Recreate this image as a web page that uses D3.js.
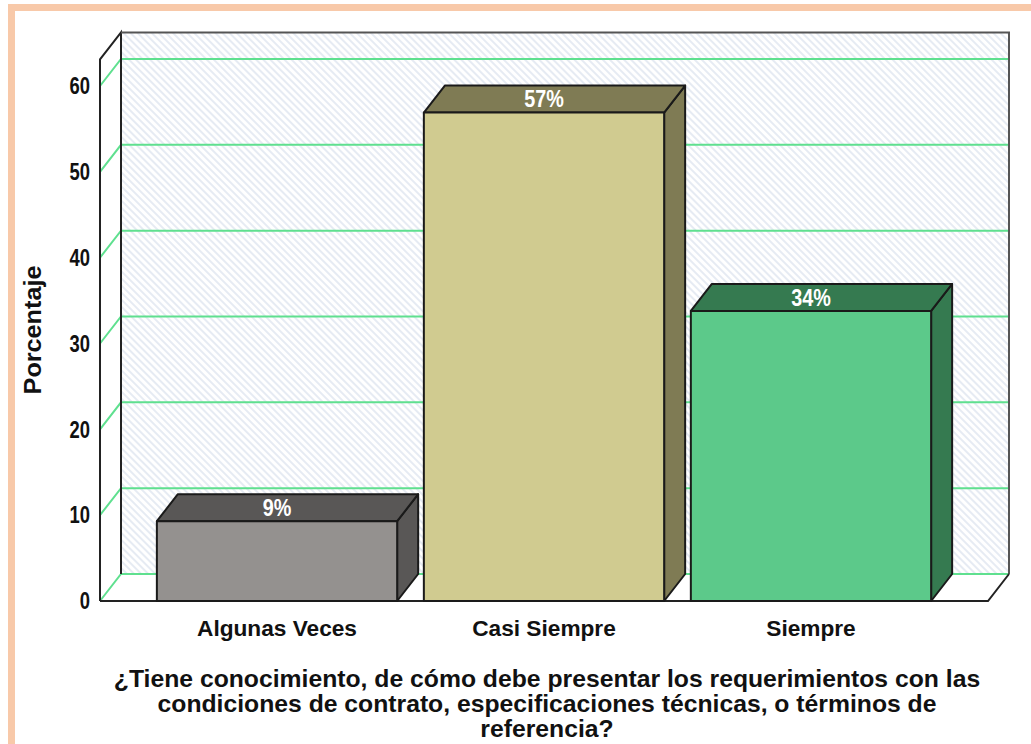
<!DOCTYPE html>
<html>
<head>
<meta charset="utf-8">
<script src="https://cdn.jsdelivr.net/npm/d3@7"></script>
<style>
  body { margin: 0; background: #fff; }
  #chart { width: 1031px; height: 744px; }
  text { font-family: "Liberation Sans", Arial, sans-serif; font-weight: bold; }
</style>
</head>
<body>
<div id="chart"></div>
<script>
const categories = ["Algunas Veces", "Casi Siempre", "Siempre"]
const values = [9.3, 56.9, 33.8]
const labels = ["9%", "57%", "34%"]
const yTicks = [0, 10, 20, 30, 40, 50, 60]
const titleLines = [
    "¿Tiene conocimiento, de cómo debe presentar los requerimientos con las",
    "condiciones de contrato, especificaciones técnicas, o términos de",
    "referencia?"
]

const frontColors = ["#94918f", "#d0cb90", "#5cc98a"]
const darkColors = ["#595756", "#7f7b54", "#357a50"]

const width = 1031, height = 744
const dx = 21, dy = -27
const left = 100, right = 988, base = 601

// narrow look: squeeze text horizontally
function squeeze(sel, ratio) {
    sel.each(function() {
        const w = this.getComputedTextLength()
        d3.select(this).attr("textLength", w * ratio).attr("lengthAdjust", "spacingAndGlyphs")
    })
}

const svg = d3.select("#chart").append("svg")
    .attr("width", width)
    .attr("height", height)

// hatch for back wall
const defs = svg.append("defs")
const pat = defs.append("pattern")
    .attr("id", "hatch")
    .attr("patternUnits", "userSpaceOnUse")
    .attr("width", 5).attr("height", 5)
    .attr("patternTransform", "rotate(45)")
pat.append("rect").attr("width", 5).attr("height", 5).attr("fill", "#fff")
pat.append("rect").attr("width", 5).attr("height", 2).attr("fill", "#e6ebf3")

// peach frame
svg.append("rect").attr("x", 8).attr("y", 4).attr("width", width - 8).attr("height", 7).attr("fill", "#f8c9a9")
svg.append("rect").attr("x", 8).attr("y", 4).attr("width", 7).attr("height", height - 4).attr("fill", "#f8c9a9")

const y = d3.scaleLinear().domain([0, 60]).range([base, 86])
const x = d3.scaleBand().domain(categories).range([left, right])
    .paddingInner(0.1).paddingOuter(0.213)

const topVal = 63.1
const wallTop = y(topVal) + dy

// back wall
svg.append("rect")
    .attr("x", left + dx).attr("y", wallTop)
    .attr("width", right - left).attr("height", base + dy - wallTop)
    .attr("fill", "url(#hatch)")

// gridlines (back wall + left wall)
const grid = svg.append("g").attr("stroke", "#5fe08f").attr("stroke-width", 2).attr("fill", "none")
grid.selectAll("path")
    .data(yTicks)
    .join("path")
    .attr("d", d => `M${left},${y(d)}L${left + dx},${y(d) + dy}L${right + dx},${y(d) + dy}`)

// wall + floor outlines
const frame = svg.append("g").attr("stroke", "#222").attr("stroke-width", 2).attr("fill", "none")
frame.append("path")
    .attr("d", `M${left},${base}L${left},${y(topVal)}L${left + dx},${wallTop}L${left + dx},${base + dy}`)
frame.append("path")
    .attr("d", `M${left + dx},${wallTop}L${right + dx},${wallTop}L${right + dx},${base + dy}`)
    .attr("stroke", "#555")
frame.append("path")
    .attr("d", `M${left},${base}L${right},${base}L${right + dx},${base + dy}`)

// y labels
svg.append("g").selectAll("text")
    .data(yTicks)
    .join("text")
    .attr("x", 90)
    .attr("y", d => y(d))
    .attr("dy", "0.36em")
    .attr("text-anchor", "end")
    .attr("font-size", 23)
    .attr("fill", "#111")
    .text(d => d)
    .call(squeeze, 0.8)

// bars
const bars = svg.append("g").attr("stroke", "#1a1a1a").attr("stroke-width", 2).attr("stroke-linejoin", "round")
    .selectAll("g")
    .data(values)
    .join("g")

bars.append("path")
    .attr("fill", (d, i) => darkColors[i])
    .attr("d", (d, i) => {
        const x1 = x(categories[i]) + x.bandwidth()
        return `M${x1},${base}L${x1 + dx},${base + dy}L${x1 + dx},${y(d) + dy}L${x1},${y(d)}Z`
    })
bars.append("path")
    .attr("fill", (d, i) => darkColors[i])
    .attr("d", (d, i) => {
        const x0 = x(categories[i]), x1 = x0 + x.bandwidth()
        return `M${x0},${y(d)}L${x0 + dx},${y(d) + dy}L${x1 + dx},${y(d) + dy}L${x1},${y(d)}Z`
    })
bars.append("rect")
    .attr("fill", (d, i) => frontColors[i])
    .attr("x", (d, i) => x(categories[i]))
    .attr("y", d => y(d))
    .attr("width", x.bandwidth())
    .attr("height", d => base - y(d))

// value labels
svg.append("g").selectAll("text")
    .data(values)
    .join("text")
    .attr("x", (d, i) => x(categories[i]) + x.bandwidth() / 2)
    .attr("y", d => y(d) + dy / 2)
    .attr("dy", "0.36em")
    .attr("text-anchor", "middle")
    .attr("font-size", 23)
    .attr("fill", "#fff")
    .text((d, i) => labels[i])
    .call(squeeze, 0.86)

// category labels
svg.append("g").selectAll("text")
    .data(categories)
    .join("text")
    .attr("x", d => x(d) + x.bandwidth() / 2)
    .attr("y", 636)
    .attr("text-anchor", "middle")
    .attr("font-size", 22)
    .attr("fill", "#111")
    .text(d => d)
    .call(squeeze, 1.03)

// y axis title
svg.append("text")
    .attr("transform", "translate(41,330) rotate(-90)")
    .attr("text-anchor", "middle")
    .attr("font-size", 24)
    .attr("fill", "#111")
    .text("Porcentaje")
    .call(squeeze, 1.05)

// x title
svg.append("g").selectAll("text")
    .data(titleLines)
    .join("text")
    .attr("x", 547)
    .attr("y", (d, i) => 687 + i * 25)
    .attr("text-anchor", "middle")
    .attr("font-size", 24)
    .attr("fill", "#111")
    .text(d => d)
    .call(squeeze, 1.03)
</script>
</body>
</html>
